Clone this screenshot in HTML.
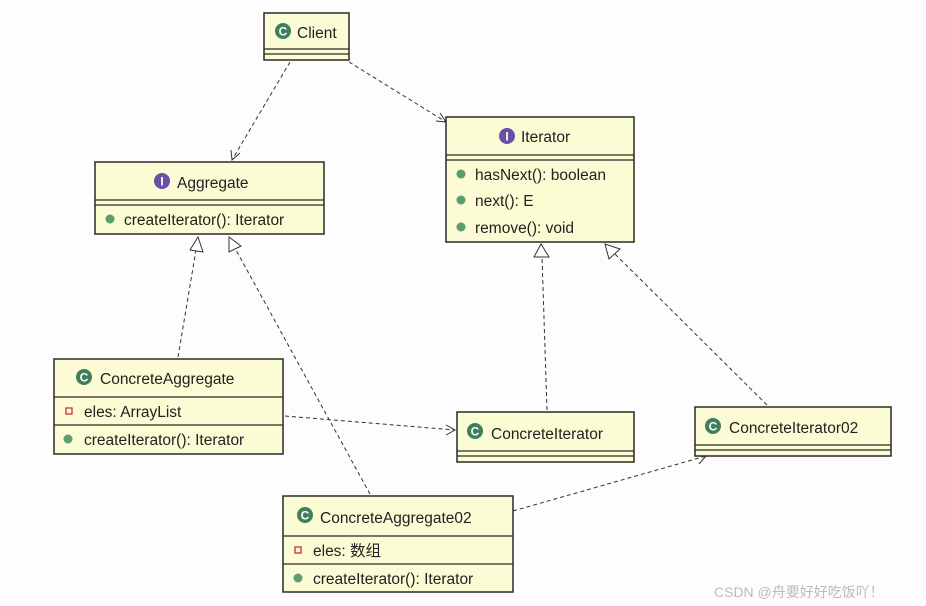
<!DOCTYPE html>
<html><head><meta charset="utf-8"><style>
body{margin:0;background:#fff;}
svg{display:block;font-family:"Liberation Sans","Noto Sans CJK SC",sans-serif;}
.b{fill:#fbfbd4;stroke:#2a2a2a;stroke-width:1.5}
.l{stroke:#2a2a2a;stroke-width:1.2}
.t{font-size:15.5px;fill:#222}
.d{stroke:#333;stroke-width:1;stroke-dasharray:4,3;fill:none}
.tri{fill:#fff;stroke:#333;stroke-width:1}
.ah{fill:none;stroke:#333;stroke-width:1}
</style></head><body>
<svg width="926" height="606" viewBox="0 0 926 606">
<rect width="926" height="606" fill="#fdfdfd"/>
<defs>
<g id="c"><circle r="8" fill="#3f7f5a"/><text x="0" y="4.5" font-size="12" font-weight="bold" fill="#fff" text-anchor="middle">C</text></g>
<g id="i"><circle r="8" fill="#6a4fa6"/><text x="0" y="4.5" font-size="12" font-weight="bold" fill="#fff" text-anchor="middle">I</text></g>
</defs>
<path class="d" d="M290 62 L232 160"/><path class="ah" d="M231 150 L232 160 L240 153"/>
<path class="d" d="M349 62 L446 122"/><path class="ah" d="M436 121 L446 122 L440 113"/>
<path class="d" d="M178 357 L196 250"/><polygon class="tri" points="198,237 190,250 203,252"/>
<path class="d" d="M370 494 L236 250"/><polygon class="tri" points="229,237 229,252 241,246"/>
<path class="d" d="M547 410 L542 257"/><polygon class="tri" points="541,244 534,257 549,257"/>
<path class="d" d="M767 405 L615 254"/><polygon class="tri" points="605,244 609,259 620,249"/>
<path class="d" d="M285 416 L455 430"/><path class="ah" d="M446 425 L455 430 L446 435"/>
<path class="d" d="M513 511 L706 456"/><path class="ah" d="M696 456 L706 456 L699 464"/>
<rect class="b" x="264" y="13" width="85" height="47"/>
<line class="l" x1="264" y1="49" x2="349" y2="49"/><line class="l" x1="264" y1="54" x2="349" y2="54"/>
<use href="#c" x="283" y="31"/><text class="t" x="297" y="38">Client</text>
<rect class="b" x="446" y="117" width="188" height="125"/>
<line class="l" x1="446" y1="155" x2="634" y2="155"/><line class="l" x1="446" y1="160" x2="634" y2="160"/>
<use href="#i" x="507" y="136"/><text class="t" x="521" y="142">Iterator</text>
<circle cx="461" cy="174" r="4.5" fill="#5e9e6e"/><text class="t" x="475" y="180">hasNext(): boolean</text>
<circle cx="461" cy="200" r="4.5" fill="#5e9e6e"/><text class="t" x="475" y="206">next(): E</text>
<circle cx="461" cy="227" r="4.5" fill="#5e9e6e"/><text class="t" x="475" y="233">remove(): void</text>
<rect class="b" x="95" y="162" width="229" height="72"/>
<line class="l" x1="95" y1="200" x2="324" y2="200"/><line class="l" x1="95" y1="205" x2="324" y2="205"/>
<use href="#i" x="162" y="181"/><text class="t" x="177" y="188">Aggregate</text>
<circle cx="110" cy="219" r="4.5" fill="#5e9e6e"/><text class="t" x="124" y="225">createIterator(): Iterator</text>
<rect class="b" x="54" y="359" width="229" height="95"/>
<line class="l" x1="54" y1="397" x2="283" y2="397"/><line class="l" x1="54" y1="425" x2="283" y2="425"/>
<use href="#c" x="84" y="377"/><text class="t" x="100" y="384">ConcreteAggregate</text>
<rect x="66" y="408" width="6" height="6" fill="#fbfbd4" stroke="#c33" stroke-width="1.3"/><text class="t" x="84" y="417">eles: ArrayList</text>
<circle cx="68" cy="439" r="4.5" fill="#5e9e6e"/><text class="t" x="84" y="445">createIterator(): Iterator</text>
<rect class="b" x="457" y="412" width="177" height="50"/>
<line class="l" x1="457" y1="451" x2="634" y2="451"/><line class="l" x1="457" y1="456" x2="634" y2="456"/>
<use href="#c" x="475" y="431"/><text class="t" x="491" y="439">ConcreteIterator</text>
<rect class="b" x="695" y="407" width="196" height="49"/>
<line class="l" x1="695" y1="445" x2="891" y2="445"/><line class="l" x1="695" y1="450" x2="891" y2="450"/>
<use href="#c" x="713" y="426"/><text class="t" x="729" y="433">ConcreteIterator02</text>
<rect class="b" x="283" y="496" width="230" height="96"/>
<line class="l" x1="283" y1="536" x2="513" y2="536"/><line class="l" x1="283" y1="564" x2="513" y2="564"/>
<use href="#c" x="305" y="515"/><text class="t" x="320" y="523">ConcreteAggregate02</text>
<rect x="295" y="547" width="6" height="6" fill="#fbfbd4" stroke="#c33" stroke-width="1.3"/><text class="t" x="313" y="556">eles: 数组</text>
<circle cx="298" cy="578" r="4.5" fill="#5e9e6e"/><text class="t" x="313" y="584">createIterator(): Iterator</text>
<text x="714" y="597" font-size="14" fill="#bbb">CSDN @舟要好好吃饭吖！</text>
</svg>
</body></html>
